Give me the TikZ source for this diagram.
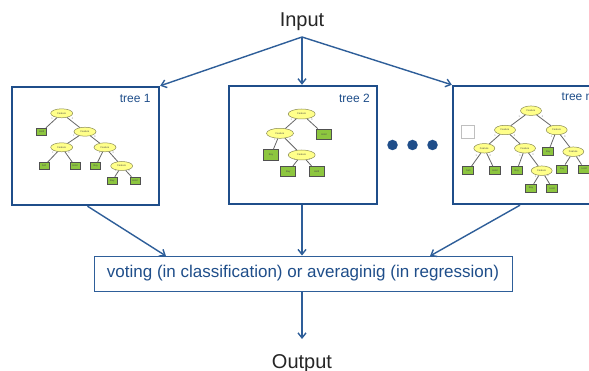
\documentclass[tikz,border=0pt]{standalone}
\usepackage{fontspec}
\setmainfont{Liberation Sans}
\usetikzlibrary{shapes.geometric,arrows.meta}
\definecolor{boxblue}{HTML}{1F4E8A}
\definecolor{arrblue}{HTML}{2E5E99}
\definecolor{txtblue}{HTML}{1F4E8A}
\definecolor{featfill}{HTML}{FFFF8A}
\definecolor{featdraw}{HTML}{8A8A55}
\definecolor{leaffill}{HTML}{8DC63F}
\definecolor{leafdraw}{HTML}{505050}
\tikzset{
  arr/.style={draw=arrblue, line width=1.4pt, -{Straight Barb[length=5pt,width=8pt]}},
  treebox/.style={draw=boxblue, line width=2.4pt, rectangle, inner sep=0pt},
  feat/.style={ellipse, fill=featfill, draw=featdraw, line width=0.5pt, inner sep=0pt,
    font=\fontsize{2.5}{2.5}\selectfont, text=black!70},
  leaf/.style={rectangle, fill=leaffill, draw=leafdraw, line width=0.9pt, inner sep=0pt,
    font=\fontsize{2.5}{2.5}\selectfont, text=black!70},
  tedge/.style={draw=black!60, line width=0.8pt},
  lab/.style={font=\fontsize{2.5}{2.5}\selectfont, text=black!50, inner sep=0.6pt},
  treelabel/.style={font=\fontsize{12}{12}\selectfont, text=txtblue, inner sep=0pt},
  bigtext/.style={font=\fontsize{20}{20}\selectfont, text=black!85, inner sep=0pt},
  dot/.style={circle, fill=boxblue, minimum size=10.5pt, inner sep=0pt}
}
\begin{document}
\begin{tikzpicture}[x=1pt,y=-1pt]
\clip (0,0) rectangle (589,371);
\fill[white] (0,0) rectangle (589,371);

% main text nodes
\node[bigtext, anchor=base] (in) at (302,27) {Input};
\node[bigtext, anchor=base] (out) at (302,368) {Output};
\coordinate (src) at (302,37);
\coordinate (dst) at (302,339);

% tree boxes
\node[treebox, minimum width=147pt, minimum height=118pt] (t1) at (85.5,146) {};
\node[treebox, minimum width=148pt, minimum height=118pt] (t2) at (303,145) {};
\node[treebox, minimum width=148pt, minimum height=118pt] (t3) at (527,145) {};
\node[treelabel, anchor=base east] (l1) at (150.7,103) {tree 1};
\node[treelabel, anchor=base east] (l2) at (370,102.7) {tree 2};
\node[treelabel, anchor=base west] (l3) at (561.5,101) {tree n};

% dots
\node[dot] (d1) at (392.5,145) {};
\node[dot] (d2) at (412.5,145) {};
\node[dot] (d3) at (432.5,145) {};

% vote box
\node[draw=arrblue, line width=0.9pt, minimum width=418pt, minimum height=35pt, inner sep=0pt,
  font=\fontsize{17}{17}\selectfont, text=txtblue] (vote) at (303,273.5)
  {voting (in classification) or averaginig (in regression)};

% arrows
\coordinate (v1) at (166,256);
\coordinate (v3) at (430,256);
\draw[arr] (src) -- (t1.north east);
\draw[arr] (src) -- (t2.north -| src);
\draw[arr] (src) -- (t3.north west);
\draw[arr] ([xshift=2pt]t1.south) -- (v1);
\draw[arr] (t2.south -| src) -- (vote.north -| src);
\draw[arr] ([xshift=-7pt]t3.south) -- (v3);
\draw[arr] (vote.south -| src) -- (dst);

% ---------- tree 1 ----------
\begin{scope}
\tikzset{feat/.append style={minimum width=22pt, minimum height=9pt},
         leaf/.append style={minimum width=10pt, minimum height=7pt}}
\node[feat] (a0) at (61.7,113.3) {Feature};
\node[leaf] (a1) at (41.7,131.7) {Hold};
\node[feat] (a2) at (85,131.7) {Feature};
\node[feat] (a3) at (61.7,147.3) {Feature};
\node[feat] (a4) at (105,147.3) {Feature};
\node[leaf] (a5) at (44,166) {Sell};
\node[leaf] (a6) at (75,166) {Hold};
\node[leaf] (a7) at (95.7,166) {Buy};
\node[feat] (a8) at (121.7,166) {Feature};
\node[leaf] (a9) at (112.3,180.7) {Buy};
\node[leaf] (a10) at (135,180.7) {Hold};
\foreach \p/\c in {a0/a1,a2/a3,a3/a5,a4/a7,a8/a9}
  \draw[tedge] (\p) -- node[lab, pos=0.3, anchor=south east] {1} (\c);
\foreach \p/\c in {a0/a2,a2/a4,a3/a6,a4/a8,a8/a10}
  \draw[tedge] (\p) -- node[lab, pos=0.3, anchor=south west] {0} (\c);
\end{scope}

% ---------- tree 2 ----------
\begin{scope}
\tikzset{feat/.append style={minimum width=27pt, minimum height=10pt},
         leaf/.append style={minimum width=15pt, minimum height=10.5pt}}
\node[feat] (b0) at (301.7,114) {Feature};
\node[feat] (b1) at (280,133.3) {Feature};
\node[leaf] (b2) at (324,134.3) {Hold};
\node[leaf] (b3) at (271,155) {Buy};
\node[feat] (b4) at (301.7,155) {Feature};
\node[leaf] (b5) at (288.3,171.7) {Buy};
\node[leaf] (b6) at (316.7,171.7) {Hold};
\foreach \p/\c in {b0/b1,b1/b3,b4/b5}
  \draw[tedge] (\p) -- node[lab, pos=0.3, anchor=south east] {1} (\c);
\foreach \p/\c in {b0/b2,b1/b4,b4/b6}
  \draw[tedge] (\p) -- node[lab, pos=0.3, anchor=south west] {0} (\c);
\end{scope}

% ---------- tree 3 ----------
\begin{scope}
\tikzset{feat/.append style={minimum width=21pt, minimum height=9.5pt},
         leaf/.append style={minimum width=11pt, minimum height=8pt}}
\node[draw=black!25, line width=0.6pt, minimum size=13pt, inner sep=0pt] (sq) at (467.3,131.7) {};
\node[feat] (c0) at (531,110.7) {Feature};
\node[feat] (c1) at (505,130) {Feature};
\node[feat] (c2) at (556.7,130) {Feature};
\node[feat] (c3) at (484.3,148.3) {Feature};
\node[feat] (c4) at (525,148.3) {Feature};
\node[leaf] (c5) at (548.3,151.7) {Buy};
\node[feat] (c6) at (573.3,151.7) {Feature};
\node[leaf] (c7) at (468.3,170.7) {Sell};
\node[leaf] (c8) at (495,170.7) {Hold};
\node[leaf] (c9) at (516.7,170.7) {Buy};
\node[feat] (c10) at (541.7,170.7) {Feature};
\node[leaf] (c11) at (562.3,169) {Buy};
\node[leaf] (c12) at (584.3,169) {Hold};
\node[leaf] (c13) at (531,188.3) {Buy};
\node[leaf] (c14) at (552.3,188.3) {Hold};
\foreach \p/\c in {c0/c1,c1/c3,c2/c5,c3/c7,c4/c9,c6/c11,c10/c13}
  \draw[tedge] (\p) -- node[lab, pos=0.3, anchor=south east] {1} (\c);
\foreach \p/\c in {c0/c2,c1/c4,c2/c6,c3/c8,c4/c10,c6/c12,c10/c14}
  \draw[tedge] (\p) -- node[lab, pos=0.3, anchor=south west] {0} (\c);
\end{scope}
\end{tikzpicture}
\end{document}
